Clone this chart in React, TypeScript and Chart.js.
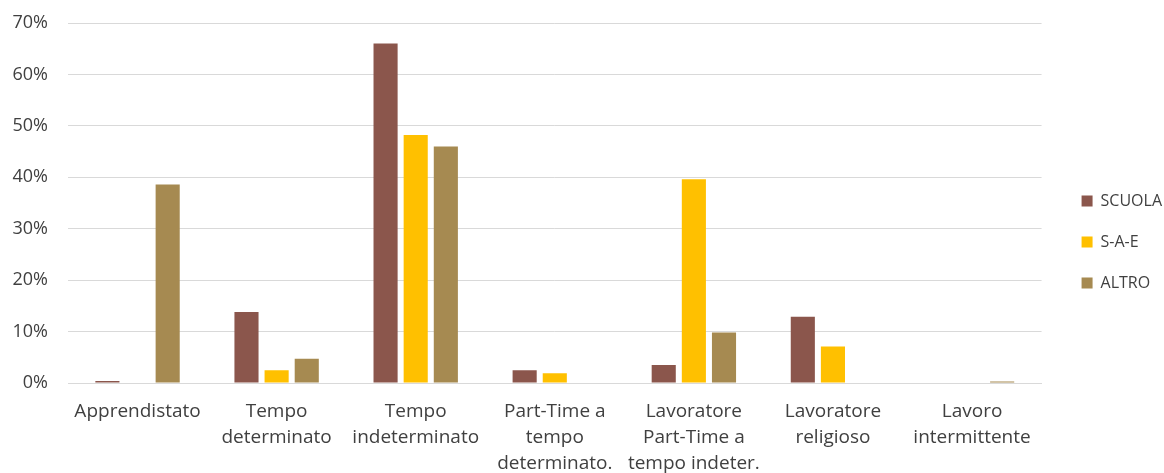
import React, { useEffect, useRef } from "react";
import { Chart, registerables } from "chart.js";

Chart.register(...registerables);

const categories: string[][] = [
  ["Apprendistato"],
  ["Tempo", "determinato"],
  ["Tempo", "indeterminato"],
  ["Part-Time a", "tempo", "determinato."],
  ["Lavoratore", "Part-Time a", "tempo indeter."],
  ["Lavoratore", "religioso"],
  ["Lavoro", "intermittente"],
];

const scuola = [0.4, 13.8, 66.0, 2.5, 3.5, 12.9, 0];
const sae = [0, 2.5, 48.2, 1.9, 39.6, 7.1, 0];
const altro = [38.6, 4.7, 46.0, 0, 9.8, 0, 0.3];

const yTicks = [0, 10, 20, 30, 40, 50, 60, 70];

const FONT = "'Open Sans', 'Liberation Sans', sans-serif";

export default function App() {
  const ref = useRef<HTMLCanvasElement | null>(null);
  useEffect(() => {
    if (!ref.current) return;
    const chart = new Chart(ref.current, {
      type: "bar",
      data: {
        labels: categories,
        datasets: [
          { label: "SCUOLA", data: scuola, backgroundColor: "#8B564C", barPercentage: 0.8, categoryPercentage: 0.65 },
          { label: "S-A-E", data: sae, backgroundColor: "#FFC000", barPercentage: 0.8, categoryPercentage: 0.65 },
          { label: "ALTRO", data: altro, backgroundColor: "#A68A51", barPercentage: 0.8, categoryPercentage: 0.65 },
        ],
      },
      options: {
        animation: false,
        responsive: true,
        maintainAspectRatio: false,
        layout: { padding: { left: 12, right: -8, top: 11, bottom: 0 } },
        plugins: {
          legend: {
            position: "right",
            align: "center",
            labels: {
              boxWidth: 11,
              boxHeight: 11,
              padding: 25,
              color: "#404040",
              font: { family: FONT, size: 16 },
            },
          },
          tooltip: { enabled: false },
        },
        scales: {
          x: {
            grid: { display: false, drawTicks: false },
            border: { display: true, color: "#d9d9d9", width: 1 },
            ticks: {
              color: "#404040",
              font: { family: FONT, size: 19, lineHeight: 1.37 },
              maxRotation: 0,
              autoSkip: false,
              padding: 16,
            },
            afterFit: (s: any) => {
              s.paddingLeft = 0;
              s.paddingRight = 0;
              s.height = 90;
            },
          },
          y: {
            min: 0,
            max: 70,
            afterBuildTicks: (axis: any) => {
              axis.ticks = yTicks.map((v) => ({ value: v }));
            },
            grid: { color: "#d9d9d9", lineWidth: 1, drawTicks: false },
            border: { display: false },
            ticks: {
              color: "#404040",
              font: { family: FONT, size: 18 },
              padding: 20,
              callback: (v: any) => v + "%",
            },
            afterFit: (s: any) => {
              s.paddingTop = 23;
              s.paddingBottom = 0;
              s.width = 56;
            },
          },
          y2: {
            type: "linear",
            position: "right",
            display: true,
            grid: { display: false, drawTicks: false },
            border: { display: false },
            ticks: { display: false },
            afterFit: (s: any) => {
              s.width = 15;
              s.paddingTop = 0;
              s.paddingBottom = 0;
            },
          },
        },
      },
    });
    return () => chart.destroy();
  }, []);
  return (
    <div style={{ position: "fixed", left: 0, top: 0, width: 1164, height: 473, background: "#fff" }}>
      <canvas ref={ref} />
    </div>
  );
}
